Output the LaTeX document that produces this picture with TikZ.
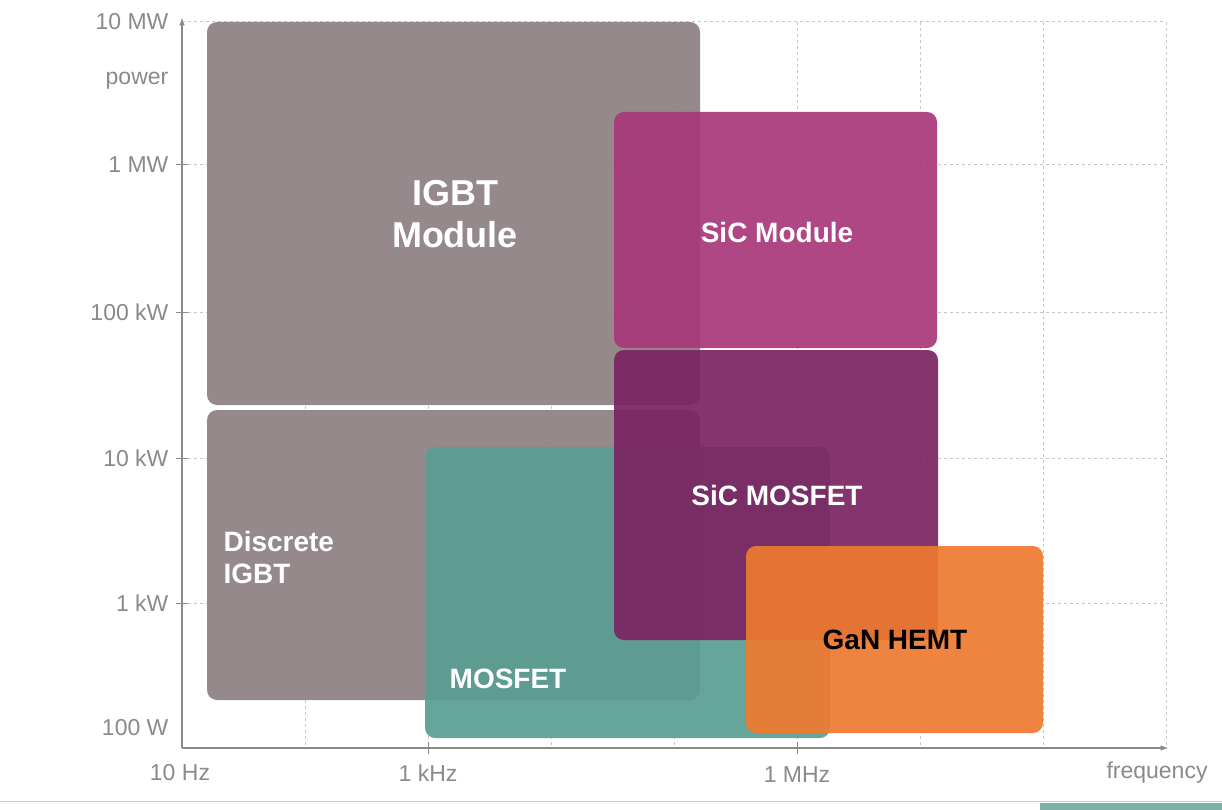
\documentclass[tikz,border=0pt]{standalone}
\usepackage{fontspec}
\setmainfont{Liberation Sans}
\usetikzlibrary{calc}
\definecolor{igbtgray}{HTML}{8E7F82}
\definecolor{mosteal}{HTML}{5A9E92}
\definecolor{sicmod}{HTML}{A8387A}
\definecolor{sicmos}{HTML}{7B2461}
\definecolor{ganorange}{HTML}{EE7A30}
\definecolor{axgray}{HTML}{8A8A8A}
\tikzset{
  box/.style={rounded corners=10pt, opacity=0.92},
  boxlabel/.style={text=white, font=\bfseries\fontsize{28}{32}\selectfont, align=center},
  ticklabel/.style={text=axgray, font=\fontsize{23}{26}\selectfont},
  gridline/.style={draw=gray!45, dashed, line width=1pt}
}
\begin{document}
\begin{tikzpicture}[x=1pt, y=-1pt]
            \useasboundingbox (0,0) rectangle (1222,810);
            \fill[white] (0,0) rectangle (1222,810);
            % grid
            \foreach \gx in {305,428,551,674,797,920,1043,1166}
                \draw[gridline] (\gx,22) -- (\gx,748);
            \foreach \gy in {22,165,312,458,603}
                \draw[gridline] (182,\gy) -- (1166,\gy);
            % axes
            \coordinate (O) at (182,748);
            \coordinate (ytop) at (182,18);
            \coordinate (xend) at (1168,748);
            \draw[axgray, line width=1.5pt, -latex] (O) -- (ytop);
            \draw[axgray, line width=1.5pt, -latex] (O) -- (xend);
            % ticks and labels
            \foreach \gy/\txt in {22/10 MW,165/1 MW,312/100 kW,458/10 kW,603/1 kW,728/100 W}
                \node[ticklabel, anchor=east] (t-\gy) at (172,\gy) {\txt};
            \node[ticklabel] (ylab) at (137,81) {power};
            \foreach \gx in {428,797}
                \draw[axgray, line width=1pt] (\gx,742) -- (\gx,754);
            \foreach \gy in {165,312,458,603}
                \draw[axgray, line width=1pt] (176,\gy) -- (188,\gy);
            \node[ticklabel] (f1) at (180,773) {10 Hz};
            \node[ticklabel] (f2) at (428,773) {1 kHz};
            \node[ticklabel] (f3) at (797,775) {1 MHz};
            \node[ticklabel] (xlab) at (1157,773) {frequency};
            % device areas
            \fill[box, igbtgray] (207,22) rectangle (700,405);
            \fill[box, igbtgray] (207,410) rectangle (700,700);
            \fill[box, mosteal] (425,447) rectangle (830,738);
            \fill[box, sicmod] (614,112) rectangle (937,348);
            \fill[box, sicmos] (614,350) rectangle (938,640);
            \fill[box, ganorange] (746,546) rectangle (1043,733);
            \node[boxlabel, font=\bfseries\fontsize{36}{42}\selectfont] (igbtmod) at (455,214) {IGBT\\Module};
            \node[boxlabel, align=left, anchor=west] (discigbt) at (220,557) {Discrete\\IGBT};
            \node[boxlabel] (mosfet) at (508,679) {MOSFET};
            \node[boxlabel] (sicm) at (777,232) {SiC Module};
            \node[boxlabel] (sicmosfet) at (777,495) {SiC MOSFET};
            \node[boxlabel, text=black] (gan) at (895,640) {GaN HEMT};
            % bottom strip
            \draw[gray!40, line width=1pt] (0,801) -- (1222,801);
            \fill[mosteal!80] (1040,803) rectangle (1222,810);
        \end{tikzpicture}
\end{document}
